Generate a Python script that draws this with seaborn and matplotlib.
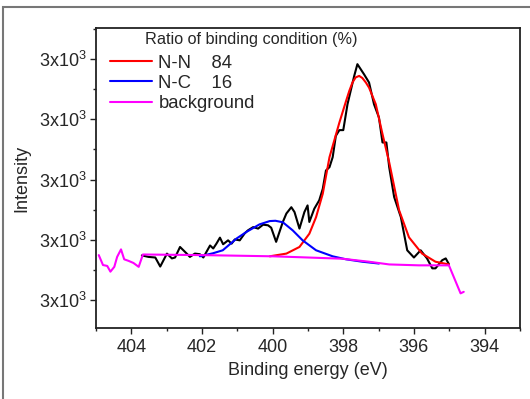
import seaborn as sns
import matplotlib.pyplot as plt
import matplotlib.ticker as mticker
from matplotlib.patches import Rectangle
import pandas as pd

# measured spectrum (binding energy in eV, intensity in counts)
raw_ev = [403.70, 403.51, 403.32, 403.18, 402.99, 402.85, 402.76, 402.62, 402.43, 402.34,
          402.20, 402.06, 401.96, 401.87, 401.77, 401.68, 401.59, 401.49, 401.40, 401.26,
          401.16, 401.07, 400.93, 400.79, 400.70, 400.55, 400.41, 400.27, 400.13, 400.04,
          399.90, 399.71, 399.61, 399.47, 399.38, 399.24, 399.10, 399.01, 398.96, 398.82,
          398.68, 398.58, 398.49, 398.39, 398.30, 398.21, 398.11, 398.00, 397.88, 397.69,
          397.60, 397.41, 397.27, 397.13, 396.99, 396.89, 396.78, 396.70, 396.56, 396.37,
          396.19, 396.00, 395.81, 395.63, 395.48, 395.39, 395.20, 395.10, 395.01]
raw_int = [2748, 2743, 2741, 2711, 2754, 2738, 2741, 2776, 2754, 2743,
           2754, 2752, 2741, 2760, 2781, 2771, 2787, 2807, 2785, 2798,
           2787, 2801, 2798, 2821, 2831, 2842, 2837, 2850, 2848, 2840,
           2793, 2859, 2887, 2908, 2892, 2837, 2892, 2914, 2859, 2903,
           2931, 2969, 3030, 3041, 3074, 3145, 3164, 3164, 3250, 3344,
           3383, 3349, 3322, 3250, 3206, 3123, 3123, 3041, 2942, 2875,
           2765, 2741, 2765, 2738, 2705, 2705, 2732, 2738, 2719]

# N-N component
nn_ev = [400.08, 399.61, 399.24, 398.96, 398.77, 398.58, 398.39, 398.11, 397.92, 397.83,
         397.74, 397.65, 397.55, 397.46, 397.36, 397.27, 397.08, 396.89, 396.70, 396.42,
         396.14, 395.77, 395.39, 395.01]
nn_int = [2745, 2754, 2776, 2820, 2875, 2953, 3074, 3189, 3261, 3294,
          3322, 3339, 3344, 3337, 3322, 3305, 3250, 3151, 3057, 2898,
          2808, 2754, 2727, 2718]

# N-C component
nc_ev = [402.06, 401.69, 401.41, 401.02, 400.74, 400.37, 400.08, 399.92, 399.71, 399.43,
         399.15, 398.77, 398.30, 397.92, 397.46, 396.99]
nc_int = [2745, 2755, 2765, 2804, 2826, 2851, 2862, 2863, 2858, 2831,
          2798, 2765, 2745, 2735, 2727, 2721]

# background (incl. the unfitted ends)
bg_ev = [404.92, 404.80, 404.68, 404.59, 404.48, 404.40, 404.29, 404.20, 404.08, 403.94,
         403.79, 403.67, 402.00, 400.00, 399.24, 398.03, 397.27, 396.70, 395.86, 395.01,
         394.68, 394.59]
bg_int = [2749, 2716, 2713, 2694, 2710, 2743, 2768, 2735, 2730, 2723,
          2710, 2751, 2749, 2745, 2742, 2737, 2727, 2718, 2715, 2715,
          2622, 2627]

legend_title = 'Ratio of binding condition (%)'
legend_labels = ['N-N    84', 'N-C    16', 'background']

sns.set_theme(style='ticks')
plt.rcParams['font.family'] = ['Liberation Sans', 'DejaVu Sans']
plt.rcParams['mathtext.fontset'] = 'custom'
plt.rcParams['mathtext.rm'] = 'Liberation Sans'
plt.rcParams['mathtext.it'] = 'Liberation Sans'
plt.rcParams['mathtext.default'] = 'regular'

fig = plt.figure(figsize=(5.3, 3.99), dpi=100)
ax = fig.add_axes([0.181, 0.178, 0.800, 0.751])

raw = pd.DataFrame({'ev': raw_ev, 'intensity': raw_int})
nn = pd.DataFrame({'ev': nn_ev, 'intensity': nn_int})
nc = pd.DataFrame({'ev': nc_ev, 'intensity': nc_int})
bg = pd.DataFrame({'ev': bg_ev, 'intensity': bg_int})

sns.lineplot(data=raw, x='ev', y='intensity', color='black', lw=1.5, sort=False, estimator=None, ax=ax)
sns.lineplot(data=nn, x='ev', y='intensity', color='#ff0000', lw=1.5, sort=False, estimator=None, ax=ax)
sns.lineplot(data=nc, x='ev', y='intensity', color='#0000ff', lw=1.5, sort=False, estimator=None, ax=ax)
sns.lineplot(data=bg, x='ev', y='intensity', color='#ff00ff', lw=1.5, sort=False, estimator=None, ax=ax)

for s in ax.spines.values():
    s.set_visible(True)
    s.set_color('#222222')
    s.set_linewidth(1.3)
ax.spines['top'].set_zorder(6)
ax.spines['right'].set_zorder(6)

ax.set_xlim(405, 393)
ax.set_ylim(2507, 3502)
ax.xaxis.set_major_locator(mticker.MultipleLocator(2))
ax.xaxis.set_minor_locator(mticker.MultipleLocator(1))
ax.yaxis.set_major_locator(mticker.MultipleLocator(200))
ax.yaxis.set_minor_locator(mticker.MultipleLocator(100))
ax.yaxis.set_major_formatter(mticker.FuncFormatter(lambda v, p: f'{v / 1000:.0f}x10$^{{3}}$'))
ax.xaxis.set_major_formatter(mticker.FuncFormatter(lambda v, p: f'{v:.0f}'))
ax.tick_params(which='major', direction='out', length=4, width=1.0, labelsize=13, color='#222222')
ax.tick_params(which='minor', direction='out', length=2.5, width=1.0, color='#222222')
ax.tick_params(axis='x', pad=4)
ax.tick_params(axis='y', pad=3)
ax.set_xlabel('Binding energy (eV)', fontsize=13, labelpad=4)
ax.set_ylabel('Intensity', fontsize=13, labelpad=6)

lines = ax.get_lines()[1:4]
ax.legend(lines, legend_labels, loc='upper left', bbox_to_anchor=(0.033, 0.912),
          frameon=False, fontsize=13.3, handlelength=2.3, handletextpad=0.32,
          labelspacing=0.17, borderpad=0, borderaxespad=0)
ax.text(0.115, 0.963, legend_title, transform=ax.transAxes, fontsize=11.7, va='center', ha='left')

# grey frame around the whole picture
fig.patches.append(Rectangle((0.006, -0.1), 1.2, 1.083, transform=fig.transFigure,
                             fill=False, edgecolor='#777777', lw=1.5))

fig.savefig('out.png', dpi=100)
